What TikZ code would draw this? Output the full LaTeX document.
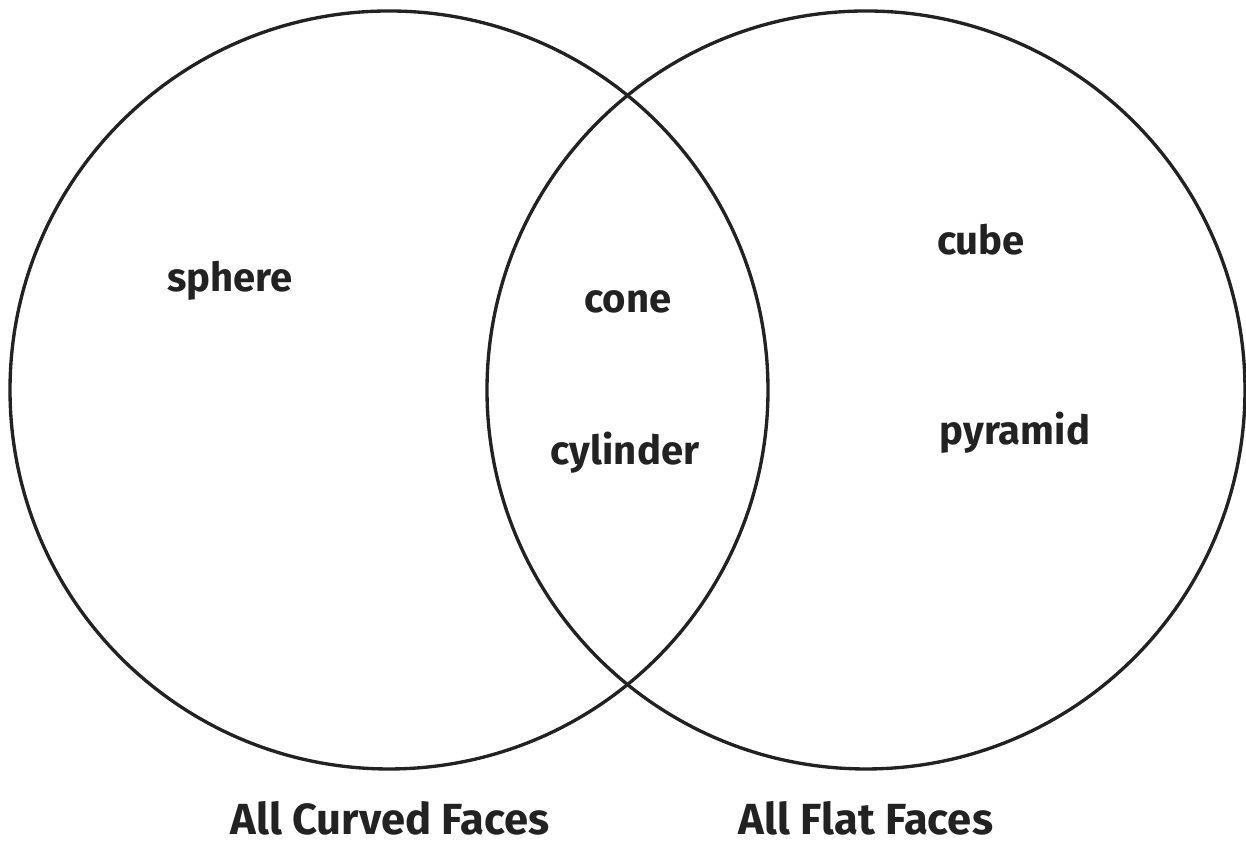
\documentclass[tikz,border=0pt]{standalone}
\usepackage{fontspec}
\setmainfont{Fira Sans}
\definecolor{ink}{HTML}{222222}
\tikzset{
  setline/.style={ink,line width=0.95pt},
  item/.style={text=ink,font=\fontsize{11.4}{13}\selectfont\bfseries},
  heading/.style={text=ink,font=\fontsize{12.4}{15}\selectfont\bfseries}
}
\begin{document}
\begin{tikzpicture}
\useasboundingbox (0,0) rectangle (12.46,8.41);

\draw[setline] (3.89,4.51) circle (3.79);
\draw[setline] (8.66,4.51) circle (3.79);

\node[item] (sphere) at (2.30,5.60) {sphere};
\node[item] (cone) at (6.28,5.39) {cone};
\node[item] (cylinder) at (6.25,3.88) {cylinder};
\node[item] (cube) at (9.81,6.01) {cube};
\node[item] (pyramid) at (10.15,4.08) {pyramid};

\node[heading] (curved) at (3.90,0.23) {All Curved Faces};
\node[heading] (flat) at (8.66,0.23) {All Flat Faces};
\end{tikzpicture}
\end{document}
